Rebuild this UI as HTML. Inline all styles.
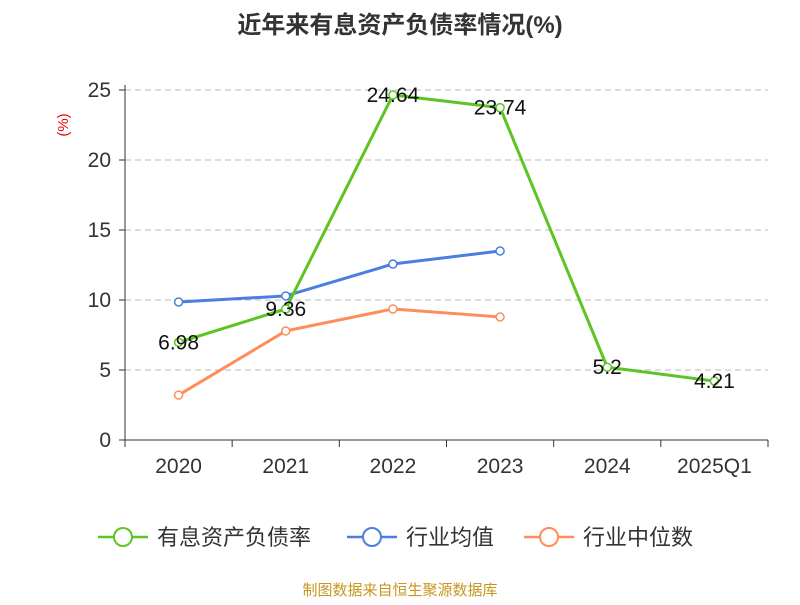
<!DOCTYPE html>
<html><head><meta charset="utf-8"><style>
body{margin:0;background:#fff;}
svg{font-family:"Liberation Sans","Noto Sans CJK SC",sans-serif;}
</style></head><body>
<svg id="c" width="800" height="600" xmlns="http://www.w3.org/2000/svg">
<text x="400" y="33" text-anchor="middle" font-size="24" font-weight="bold" fill="#333">近年来有息资产负债率情况(%)</text>
<text transform="translate(68,125) rotate(-90)" text-anchor="middle" font-size="15" fill="#e00">(%)</text>
<g id="grid"></g><g id="axes"></g><g id="series"></g>
<g>
<g><line x1="98" y1="537" x2="148" y2="537" stroke="#5cc423" stroke-width="2.5"/><circle cx="123" cy="537" r="9" fill="#fff" stroke="#5cc423" stroke-width="2"/><text x="157" y="545" font-size="22" fill="#333">有息资产负债率</text></g>
<g><line x1="347" y1="537" x2="397" y2="537" stroke="#4a7fe0" stroke-width="2.5"/><circle cx="372" cy="537" r="9" fill="#fff" stroke="#4a7fe0" stroke-width="2"/><text x="406" y="545" font-size="22" fill="#333">行业均值</text></g>
<g><line x1="524" y1="537" x2="574" y2="537" stroke="#ff8c5a" stroke-width="2.5"/><circle cx="549" cy="537" r="9" fill="#fff" stroke="#ff8c5a" stroke-width="2"/><text x="583" y="545" font-size="22" fill="#333">行业中位数</text></g>
</g>
<text x="400" y="595" text-anchor="middle" font-size="15" fill="#c8961e">制图数据来自恒生聚源数据库</text>
</svg>
<script>
const categories=["2020","2021","2022","2023","2024","2025Q1"];
const debtRatio=[6.98,9.36,24.64,23.74,5.2,4.21];
const industryMean=[9.86,10.29,12.57,13.5];
const industryMedian=[3.21,7.79,9.36,8.79];
const yTicks=[0,5,10,15,20,25];
const NS="http://www.w3.org/2000/svg";
const x0=125,x1=768,y0=440,y1=90;
const bw=(x1-x0)/categories.length;
const xs=i=>x0+bw*(i+0.5);
const ys=v=>y0-(v/25)*(y0-y1);
function mk(t,a,p){const e=document.createElementNS(NS,t);for(const k in a)e.setAttribute(k,a[k]);p.appendChild(e);return e;}
const grid=document.getElementById('grid'),axes=document.getElementById('axes'),ser=document.getElementById('series');
yTicks.forEach(v=>{
 if(v>0){const g=mk('line',{x1:x0,x2:x1,y1:ys(v),y2:ys(v),stroke:'#bbb','stroke-dasharray':'6,4'},grid);
 }
 const tk=mk('line',{x1:x0-6,x2:x0,y1:ys(v),y2:ys(v),stroke:'#333'},axes);
 
 const t=mk('text',{x:x0-14,y:ys(v)+7,'text-anchor':'end','font-size':'21',fill:'#333'},axes);t.textContent=v;
 
});
const ya=mk('line',{x1:x0,x2:x0,y1:y1-5,y2:y0,stroke:'#333'},axes);

const xa=mk('line',{x1:x0,x2:x1,y1:y0,y2:y0,stroke:'#333'},axes);

for(let i=0;i<=categories.length;i++){const tk=mk('line',{x1:x0+bw*i,x2:x0+bw*i,y1:y0,y2:y0+7,stroke:'#333'},axes);
 }
categories.forEach((c,i)=>{const t=mk('text',{x:xs(i),y:y0+33,'text-anchor':'middle','font-size':'21',fill:'#333'},axes);t.textContent=c;
 });
function series(vals,color,name,labels){
 const g=mk('g',{},ser);
 const pl=mk('polyline',{points:vals.map((v,i)=>xs(i)+','+ys(v)).join(' '),fill:'none',stroke:color,'stroke-width':3},g);
 
 vals.forEach((v,i)=>{const c=mk('circle',{cx:xs(i),cy:ys(v),r:4,fill:'#fff',stroke:color,'stroke-width':1.5},g);
  
  if(labels){const t=mk('text',{x:xs(i),y:ys(v)+7,'text-anchor':'middle','font-size':'21',fill:'#111'},g);t.textContent=v;
   }
 });
}
series(industryMedian,'#ff8c5a','industry-median',false);
series(industryMean,'#4a7fe0','industry-mean',false);
series(debtRatio,'#5cc423','debt-ratio',true);
</script>
</body></html>
